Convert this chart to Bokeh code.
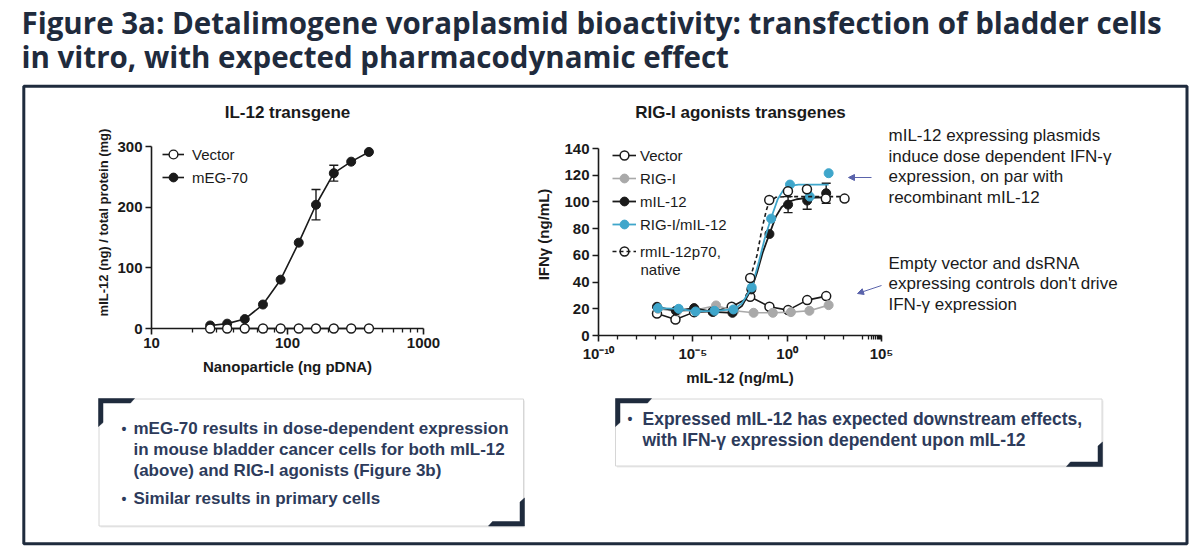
import math
from bokeh.plotting import figure
from bokeh.layouts import column
from bokeh.models import (Range1d, Label, Arrow, NormalHead, Legend, LegendItem, Whisker,
                          TeeHead, ColumnDataSource, FixedTicker, PrintfTickFormatter,
                          CustomJSTickFormatter)
from bokeh.core.properties import value
from bokeh.embed import file_html
from bokeh.resources import INLINE

# ---------------- data ----------------
title_lines = ["Figure 3a: Detalimogene voraplasmid bioactivity: transfection of bladder cells",
               "in vitro, with expected pharmacodynamic effect"]

left_title = "IL-12 transgene"
left_xlabel = "Nanoparticle (ng pDNA)"
left_ylabel = "mIL-12 (ng) / total protein (mg)"
left_xticks = [10, 100, 1000]
left_xminor = [20, 30, 40, 50, 60, 70, 80, 90, 200, 300, 400, 500, 600, 700, 800, 900]
left_yticks = [0, 100, 200, 300]
np_dose = [27, 36, 48.5, 66, 89, 121, 162, 219, 294, 397]
vector_il12 = [0, 0, 0, 0, 0, 0, 0, 0, 0, 0]
meg70_il12 = [5, 8, 15.5, 39.5, 80.5, 141.5, 204, 256, 275, 291]
meg70_err = [0, 0, 0, 0, 0, 0, 25, 13, 0, 0]

right_title = "RIG-I agonists transgenes"
right_xlabel = "mIL-12 (ng/mL)"
right_ylabel = "IFN\u03b3 (ng/mL)"
right_xticks = [1e-10, 1e-5, 1, 1e5]
right_xminor = [1e-9, 1e-8, 1e-7, 1e-6, 1e-4, 1e-3, 1e-2, 1e-1, 10, 100, 1000, 1e4,
                2e4, 3e4, 4e4, 5e4, 6e4, 7e4, 8e4, 9e4]
right_yticks = [0, 20, 40, 60, 80, 100, 120, 140]

vec_x = [1.26e-7, 1.2e-6, 1.17e-5, 1.15e-4, 1.15e-3, 1.1e-2, 0.115, 1.12, 11.5, 117]
vec_y = [16.5, 12, 17.5, 18, 21.5, 29, 21.5, 19, 26.5, 29.5]

rig_x = [1.41e-7, 1.41e-6, 1.41e-5, 1.7e-4, 1.58e-3, 1.66e-2, 0.174, 1.58, 15.1, 158]
rig_y = [20, 18, 19, 22.5, 18.5, 17, 17, 17.5, 18.5, 22.75]

mil_x = [1.26e-7, 1.26e-6, 1.17e-5, 1.15e-4, 1.26e-3, 1.26e-2, 0.115, 1.12, 11.5, 117]
mil_y = [21.5, 18.5, 20.5, 17.75, 17, 34.5, 76, 98, 101, 106.5]
mil_err = [0, 0, 0, 0, 0, 0, 0, 6, 6.5, 7.5]
mil_fit_x = [1.26e-7, 1.26e-6, 1.17e-5, 1.15e-4, 1.26e-3, 3.98e-3, 1.26e-2, 2.51e-2, 5.01e-2,
             0.115, 0.251, 0.501, 1.12, 3.16, 11.5, 117]
mil_fit_y = [21.5, 18.5, 20.5, 17.75, 17, 22, 34.5, 47, 62, 76, 89, 96, 100, 102, 103, 103.5]

rm_x = [1.41e-7, 1.78e-6, 1.41e-5, 1.41e-4, 1.41e-3, 1.32e-2, 0.141, 1.41, 15.8, 158]
rm_y = [20.5, 20, 18, 18.5, 19.5, 36, 87.5, 113, 104, 121.5]
rm_fit_x = [1.41e-7, 1.78e-6, 1.41e-5, 1.41e-4, 1.41e-3, 3.98e-3, 1.32e-2, 3.16e-2, 6.31e-2,
            0.141, 0.316, 0.631, 1.41, 3.98, 15.8, 158]
rm_fit_y = [20.5, 20, 18, 18.5, 19.5, 24, 36, 55, 72, 88, 102, 109, 112, 113, 113, 113]

rec_x = [1.1e-2, 0.112, 1.1, 11.2, 112, 1100]
rec_y = [43, 101.5, 108, 109.5, 102.5, 102.5]
rec_fit_x = [1.1e-2, 2.51e-2, 4.57e-2, 7.94e-2, 0.112, 0.251, 1.1, 11.2, 112, 1100]
rec_fit_y = [43, 60, 79.5, 94, 100, 103.5, 104, 104, 104, 104]

right_series = ["Vector", "RIG-I", "mIL-12", "RIG-I/mIL-12", "rmIL-12p70,", "native"]

note_top = ["mIL-12 expressing plasmids", "induce dose dependent IFN-\u03b3",
            "expression, on par with", "recombinant mIL-12"]
note_bottom = ["Empty vector and dsRNA", "expressing controls don't drive",
               "IFN-\u03b3 expression"]
box_left = ["mEG-70 results in dose-dependent expression",
            "in mouse bladder cancer cells for both mIL-12",
            "(above) and RIG-I agonists (Figure 3b)",
            "Similar results in primary cells"]
box_right = ["Expressed mIL-12 has expected downstream effects,",
             "with IFN-\u03b3 expression dependent upon mIL-12"]

# ---------------- styles ----------------
NAVY = "#1f2b3d"
BOXTXT = "#2d3b5b"
ARROW = "#5a63ab"
INK = "#1a1a1a"
CYAN = "#3fa6cb"
GRAY = "#a9a9a9"
FONT = "Liberation Sans"
BL, BR, BT, BB = 65, 25, 20, 62      # chart borders (px)

# ---------------- background canvas ----------------
# Column aligns plot frames, so the background frame spans [BL, 1200-BR]
bg = figure(width=1200, height=553, x_range=Range1d(BL, 1200 - BR), y_range=Range1d(553, 0),
            output_backend="svg", toolbar_location=None, x_axis_location=None,
            y_axis_location=None, min_border=0, outline_line_color=None)
bg.xgrid.visible = False
bg.ygrid.visible = False


def lab(x, y, text, size, bold=False, color=INK, align="left", baseline="middle",
        font=FONT, angle=0):
    bg.add_layout(Label(x=x, y=y, text=text, text_font=font, text_font_size=f"{size}px",
                        text_font_style="bold" if bold else "normal", text_color=color,
                        text_align=align, text_baseline=baseline, angle=angle,
                        level="overlay"))


# title as an unclipped text glyph (it starts left of the aligned frame)
tt = bg.text(x=[21, 21], y=[21.5, 55.5], text=title_lines, text_font=value("Open Sans"),
             text_font_size="29.5px", text_font_style="bold", text_color=NAVY,
             text_align="left", text_baseline="middle")
tt.level = "overlay"

# outer frame
fr = bg.quad(left=23.3, right=1186.5, top=85.8, bottom=543.3, fill_alpha=0,
             line_color=NAVY, line_width=3)
fr.level = "overlay"

# chart titles & y labels
lab(287, 112, left_title, 17, True, INK, align="center")
lab(740, 112, right_title, 17, True, INK, align="center")
lab(103, 222, left_ylabel, 13, True, INK, align="center", angle=math.pi / 2)
lab(543, 234, right_ylabel, 15, True, INK, align="center", angle=math.pi / 2)

# notes with arrows
for i, t in enumerate(note_top):
    lab(888, 135 + 20.6 * i, t, 17, False, INK)
for i, t in enumerate(note_bottom):
    lab(888, 263 + 20.3 * i, t, 17, False, INK)
bg.add_layout(Arrow(end=NormalHead(size=6, fill_color=ARROW, line_color=ARROW),
                    x_start=871, y_start=177, x_end=848, y_end=177,
                    line_color=ARROW, line_width=1))
bg.add_layout(Arrow(end=NormalHead(size=6, fill_color=ARROW, line_color=ARROW),
                    x_start=881, y_start=285, x_end=857, y_end=293,
                    line_color=ARROW, line_width=1))

# text boxes
for (l, r, t, b) in [(98.5, 523, 398.5, 525.5), (615, 1101.5, 398.5, 465.5)]:
    bg.quad(left=l + 1.5, right=r + 1.5, top=t + 1.5, bottom=b + 1.5, fill_color="#ececec",
            line_color=None)
    bg.quad(left=l, right=r, top=t, bottom=b, fill_color="white", line_color="#d6d6d6",
            line_width=1)

bx = [[98, 134, 130, 102.5, 102.5, 98], [524, 488, 492, 519.5, 519.5, 524],
      [615, 651, 647, 619.5, 619.5, 615], [1102, 1066, 1070, 1097.5, 1097.5, 1102]]
by = [[398, 398, 402.5, 402.5, 422, 426], [525.5, 525.5, 521, 521, 501.5, 497.5],
      [398, 398, 402.5, 402.5, 422, 426], [466, 466, 461.5, 461.5, 445.5, 441.5]]
bg.patches(xs=bx, ys=by, fill_color=NAVY, line_color=NAVY, line_width=0.5)

ly = [428, 449, 470, 498]
for i, t in enumerate(box_left):
    lab(133, ly[i], t, 17, True, BOXTXT)
lab(121, 428, "\u2022", 14, True, BOXTXT)
lab(121, 498, "\u2022", 14, True, BOXTXT)
ry = [418, 439.5]
for i, t in enumerate(box_right):
    lab(642, ry[i], t, 17.5, True, BOXTXT)
lab(627, 418, "\u2022", 14, True, BOXTXT)


# ---------------- chart helpers ----------------
def style_axes(p):
    for ax in (p.xaxis[0], p.yaxis[0]):
        ax.axis_line_width = 1.6
        ax.axis_line_color = INK
        ax.major_tick_line_width = 1.6
        ax.major_tick_line_color = INK
        ax.major_tick_in = 0
        ax.major_tick_out = 6
        ax.minor_tick_in = 0
        ax.minor_tick_out = 4
        ax.minor_tick_line_width = 1.3
        ax.minor_tick_line_color = INK
        ax.major_label_text_font = FONT
        ax.major_label_text_font_size = "15px"
        ax.major_label_text_font_style = "bold"
        ax.major_label_text_color = INK
        ax.major_label_standoff = 3
        ax.axis_label_text_font = FONT
        ax.axis_label_text_font_size = "15px"
        ax.axis_label_text_font_style = "bold"
        ax.axis_label_text_color = INK
    p.yaxis.minor_tick_line_color = None
    p.xgrid.visible = False
    p.ygrid.visible = False


def make_legend(items, vx, vy, standoff, gw, gh=22):
    return Legend(items=items, location=(vx, vy), padding=0, margin=0, spacing=1,
                  glyph_width=gw, glyph_height=gh, label_height=22, label_standoff=standoff,
                  border_line_color=None, background_fill_alpha=0,
                  label_text_font=FONT, label_text_font_size="15px", label_text_color=INK)


def chart(xr, yr, fw, fh):
    return figure(x_axis_type="log", x_range=xr, y_range=yr,
                  frame_width=fw, frame_height=fh, min_border_left=BL, min_border_right=BR,
                  min_border_top=BT, min_border_bottom=BB, output_backend="svg",
                  toolbar_location=None, background_fill_alpha=0, border_fill_alpha=0,
                  outline_line_color=None)


# ---------------- left chart ----------------
p1 = chart(Range1d(10, 1000), Range1d(0, 300), 272, 182)
style_axes(p1)
p1.xaxis.ticker = FixedTicker(ticks=left_xticks, minor_ticks=left_xminor)
p1.xaxis.formatter = PrintfTickFormatter(format="%d")
p1.yaxis.ticker = FixedTicker(ticks=left_yticks)
p1.xaxis.axis_label = left_xlabel
p1.xaxis.axis_label_standoff = 7

l_meg = p1.line(np_dose, meg70_il12, line_color=INK, line_width=1.6)
s_meg = p1.scatter(np_dose, meg70_il12, marker="circle", size=9, fill_color=INK,
                   line_color=INK, line_width=1)
l_vec = p1.line(np_dose, vector_il12, line_color=INK, line_width=1.6)
s_vec = p1.scatter(np_dose, vector_il12, marker="circle", size=9, fill_color="white",
                   line_color=INK, line_width=1.4)
for r in (l_vec, s_vec, s_meg):
    r.level = "overlay"

e1 = [(x, y, e) for x, y, e in zip(np_dose, meg70_il12, meg70_err) if e > 0]
src1 = ColumnDataSource(dict(x=[a[0] for a in e1], upper=[a[1] + a[2] for a in e1],
                             lower=[a[1] - a[2] for a in e1]))
p1.add_layout(Whisker(base="x", upper="upper", lower="lower", source=src1, dimension="height",
                      line_color=INK, line_width=1.4,
                      upper_head=TeeHead(size=9, line_color=INK, line_width=1.4),
                      lower_head=TeeHead(size=9, line_color=INK, line_width=1.4)))

p1.add_layout(make_legend([LegendItem(label="Vector", renderers=[l_vec, s_vec]),
                           LegendItem(label="mEG-70", renderers=[l_meg, s_meg])],
                          11, 140, 8, 22))

# ---------------- right chart ----------------
p2 = chart(Range1d(1e-10, 1e5), Range1d(0, 140), 283, 187)
style_axes(p2)
p2.xaxis.ticker = FixedTicker(ticks=right_xticks, minor_ticks=right_xminor)
p2.xaxis.formatter = CustomJSTickFormatter(code="""
const sup = {'-': '\u207b', '0': '\u2070', '1': '\u00b9', '2': '\u00b2', '3': '\u00b3',
             '4': '\u2074', '5': '\u2075', '6': '\u2076', '7': '\u2077', '8': '\u2078', '9': '\u2079'};
const e = Math.round(Math.log10(tick));
return '10' + String(e).split('').map(c => sup[c]).join('');
""")
p2.yaxis.ticker = FixedTicker(ticks=right_yticks)
p2.xaxis.axis_label = right_xlabel
p2.xaxis.axis_label_standoff = 4

l_v = p2.line(vec_x, vec_y, line_color=INK, line_width=1.6)
s_v = p2.scatter(vec_x, vec_y, marker="circle", size=9, fill_color="white", line_color=INK,
                 line_width=1.5)
l_g = p2.line(rig_x, rig_y, line_color=GRAY, line_width=1.6)
s_g = p2.scatter(rig_x, rig_y, marker="circle", size=9, fill_color=GRAY, line_color=GRAY)
l_m = p2.line(mil_fit_x, mil_fit_y, line_color=INK, line_width=1.8)
s_m = p2.scatter(mil_x, mil_y, marker="circle", size=9, fill_color=INK, line_color=INK)
l_c = p2.line(rm_fit_x, rm_fit_y, line_color=CYAN, line_width=1.8)
s_c = p2.scatter(rm_x, rm_y, marker="circle", size=9, fill_color=CYAN, line_color=CYAN)
l_r = p2.line(rec_fit_x, rec_fit_y, line_color=INK, line_width=1.6, line_dash="4 3")
s_r = p2.scatter(rec_x, rec_y, marker="circle", size=9, fill_color="white", line_color=INK,
                 line_width=1.5)

e2 = [(x, y, e) for x, y, e in zip(mil_x, mil_y, mil_err) if e > 0]
src2 = ColumnDataSource(dict(x=[a[0] for a in e2], upper=[a[1] + a[2] for a in e2],
                             lower=[a[1] - a[2] for a in e2]))
p2.add_layout(Whisker(base="x", upper="upper", lower="lower", source=src2, dimension="height",
                      line_color=INK, line_width=1.4,
                      upper_head=TeeHead(size=9, line_color=INK, line_width=1.4),
                      lower_head=TeeHead(size=9, line_color=INK, line_width=1.4)))

p2.add_layout(make_legend([LegendItem(label=right_series[0], renderers=[l_v, s_v]),
                           LegendItem(label=right_series[1], renderers=[l_g, s_g]),
                           LegendItem(label=right_series[2], renderers=[l_m, s_m]),
                           LegendItem(label=right_series[3], renderers=[l_c, s_c])],
                          14, 100, 4, 24))
p2.add_layout(make_legend([LegendItem(label=right_series[4], renderers=[s_r, l_r])],
                          14, 73, 4, 24))
lab(640, 269, right_series[5], 15, False, INK)

# ---------------- assemble ----------------
p1.styles = {"position": "absolute", "left": f"{151 - BL}px", "top": f"{146 - BT}px"}
p2.styles = {"position": "absolute", "left": f"{598 - BL}px", "top": f"{148 - BT}px"}
root = column(bg, p1, p2, width=1200, height=553, styles={"position": "relative"})

with open("out.html", "w") as f:
    f.write(file_html(root, INLINE))
